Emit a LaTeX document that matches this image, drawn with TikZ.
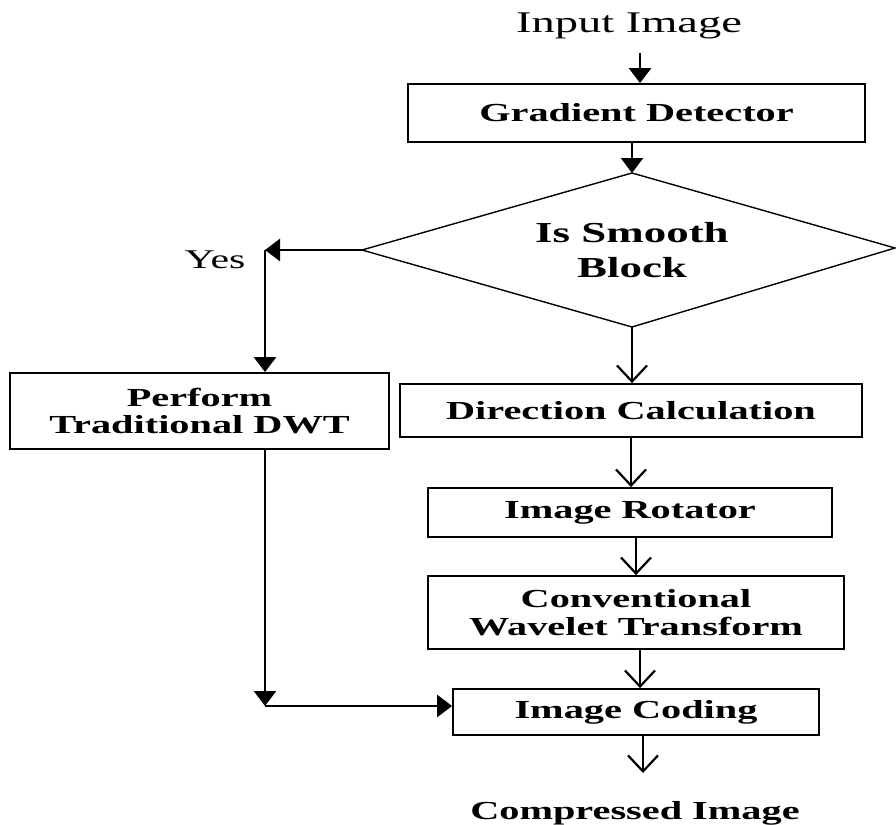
\documentclass[tikz,border=0pt]{standalone}
\usepackage{fontspec}
\setmainfont{Liberation Serif}[FakeStretch=1.55]
\usetikzlibrary{arrows.meta}

\begin{document}
\begin{tikzpicture}[x=1pt,y=-1pt,
  box/.style={draw, line width=1.8pt, inner sep=0pt, align=center,
    font=\fontsize{26}{27}\selectfont\bfseries},
  solidarrow/.style={line width=2.6pt, -{Triangle[length=15pt,width=22pt]}},
  openarrow/.style={line width=2.4pt,
    -{Straight Barb[length=16pt,width=30pt,line width=2.2pt]}},
]
\useasboundingbox (0,0) rectangle (896,824);

% labels outside the boxes
\node[font=\fontsize{30}{30}\selectfont, anchor=base] (input) at (629,33) {Input Image};
\node[font=\fontsize{27}{30}\selectfont, anchor=base] (yes) at (215,268) {Yes};
\node[font=\fontsize{26}{27}\selectfont\bfseries, anchor=base] (out) at (635,819) {Compressed Image};

% process blocks
\node[box, minimum width=457pt, minimum height=58pt] (grad) at (636.5,113) {Gradient Detector};

% decision: corners of the diamond, then its label
\coordinate (dtop) at (632,173);
\coordinate (dright) at (895,248);
\coordinate (dbot) at (632,327);
\coordinate (dleft) at (362,250);
\draw[line width=1.4pt, line join=miter] (dtop) -- (dright) -- (dbot) -- (dleft) -- cycle;
\node[align=center, inner sep=0pt, font=\fontsize{29}{35}\selectfont\bfseries]
  (smooth) at (632,250) {Is Smooth\\Block};

\node[box, minimum width=379pt, minimum height=76pt] (dwt) at (199.5,411) {Perform\\Traditional DWT};
\node[box, minimum width=462pt, minimum height=53pt] (dir) at (631,410.5) {Direction Calculation};
\node[box, minimum width=404pt, minimum height=49pt] (rot) at (630,512.5) {Image Rotator};
\node[box, minimum width=416pt, minimum height=73pt, font=\fontsize{26}{28}\selectfont\bfseries]
  (wave) at (636,612.5) {Conventional\\Wavelet Transform};
\node[box, minimum width=366pt, minimum height=46pt] (code) at (636,712) {Image Coding};

% bend points and free ends
\coordinate (instart) at (640,53);
\coordinate (yescorner) at (265,250);
\coordinate (joincorner) at (265,706);
\coordinate (outend) at (643,773);

% connectors
\draw[solidarrow] (instart) -- (instart |- grad.north);
\draw[solidarrow] (grad.south -| dtop) -- (dtop);
\draw[solidarrow] (dleft) -- (yescorner);
\draw[solidarrow] (yescorner) -- (yescorner |- dwt.north);
\draw[solidarrow] (yescorner |- dwt.south) -- (joincorner);
\draw[solidarrow] (joincorner) -- (joincorner -| code.west);
\draw[openarrow] (dbot) -- (dbot |- dir.north);
\draw[openarrow] (dir.south) -- (dir.south |- rot.north);
\draw[openarrow] (rot.south -| wave.north) -- (wave.north);
\draw[openarrow] ([xshift=4pt]wave.south) -- ([xshift=4pt]code.north);
\draw[openarrow] ([xshift=7pt]code.south) -- (outend);
\end{tikzpicture}
\end{document}
